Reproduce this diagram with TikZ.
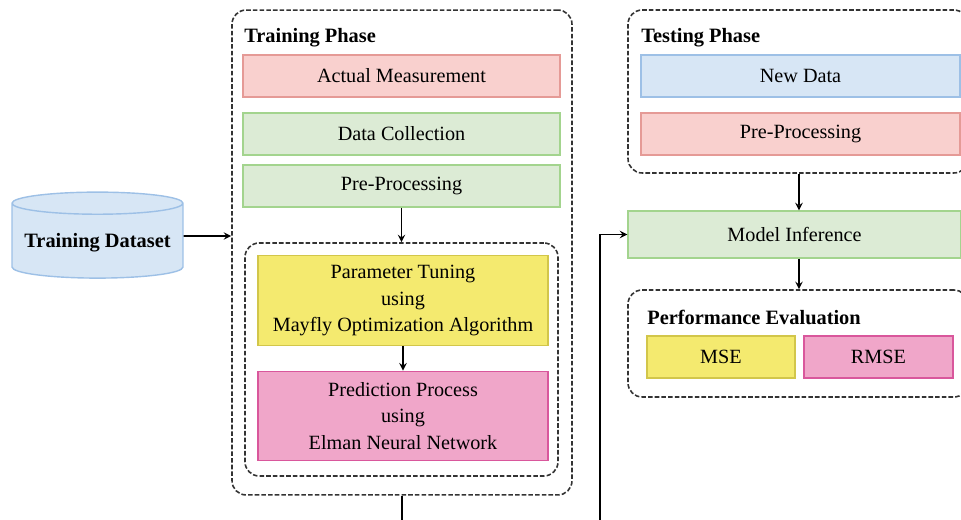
\documentclass[tikz,border=0pt]{standalone}
\usepackage{fontspec}
\setmainfont{Liberation Serif}
\usetikzlibrary{shapes.geometric}

\definecolor{redfill}{HTML}{F9D0CE}
\definecolor{redline}{HTML}{E59A96}
\definecolor{greenfill}{HTML}{DCEBD5}
\definecolor{greenline}{HTML}{A3D48E}
\definecolor{bluefill}{HTML}{D7E6F5}
\definecolor{blueline}{HTML}{9DC0E6}
\definecolor{yellowfill}{HTML}{F4EA6F}
\definecolor{yellowline}{HTML}{D2C64A}
\definecolor{pinkfill}{HTML}{F0A6C9}
\definecolor{pinkline}{HTML}{D9579C}

\begin{document}
\begin{tikzpicture}[x=0.02cm, y=-0.02cm, >=stealth,
    font=\fontsize{11.5}{15}\selectfont,
    stage/.style={draw, line width=0.8pt, minimum width=6.34cm, minimum height=0.84cm, inner sep=0pt},
    tall/.style={stage, minimum width=5.8cm, minimum height=1.79cm, align=center},
    group/.style={draw=black!80, line width=0.9pt, dash pattern=on 2.6pt off 1.2pt, rounded corners=8pt, inner sep=0pt},
    heading/.style={anchor=base west, font=\fontsize{11.6}{13}\selectfont\bfseries, inner sep=0pt},
    link/.style={->, line width=0.9pt}]
    \path[use as bounding box, clip] (0,0) rectangle (961,520);

    % Dataset
    \node[cylinder, shape border rotate=90, aspect=0.14, draw=blueline, fill=bluefill, line width=0.8pt,
          minimum width=3.42cm, minimum height=1.72cm, font=\fontsize{11.6}{13}\selectfont\bfseries] (data) at (97.5,243) {Training Dataset};

    % Training phase
    \node[group, minimum width=6.8cm, minimum height=9.7cm] (train) at (402,252.5) {};
    \node[heading] (trainhead) at (244,43) {Training Phase};
    \node[stage, draw=redline, fill=redfill] (actual) at (401.5,76) {Actual Measurement};
    \node[stage, draw=greenline, fill=greenfill] (collect) at (401.5,134) {Data Collection};
    \node[stage, draw=greenline, fill=greenfill] (prep) at (401.5,186) {Pre-Processing};
    \node[group, minimum width=6.26cm, minimum height=4.66cm] (inner) at (401.5,359.5) {};
    \node[tall, draw=yellowline, fill=yellowfill] (tune) at (403,300.5) {Parameter Tuning\\using\\Mayfly Optimization Algorithm};
    \node[tall, draw=pinkline, fill=pinkfill] (predict) at (403,416) {Prediction Process\\using\\Elman Neural Network};

    % Testing phase
    \node[group, minimum width=6.8cm, minimum height=3.26cm] (test) at (798,91.5) {};
    \node[heading] (testhead) at (641,43) {Testing Phase};
    \node[stage, minimum width=6.38cm, draw=blueline, fill=bluefill] (newdata) at (800.5,76) {New Data};
    \node[stage, minimum width=6.38cm, draw=redline, fill=redfill] (testprep) at (800.5,134) {Pre-Processing};
    \node[stage, minimum width=6.66cm, minimum height=0.94cm, draw=greenline, fill=greenfill] (infer) at (794.5,234.5) {Model Inference};

    % Evaluation
    \node[group, minimum width=6.8cm, minimum height=2.14cm] (perf) at (798,343.5) {};
    \node[heading] (perfhead) at (647,325) {Performance Evaluation};
    \node[stage, minimum width=2.96cm, draw=yellowline, fill=yellowfill] (mse) at (721,357) {MSE};
    \node[stage, minimum width=2.98cm, draw=pinkline, fill=pinkfill] (rmse) at (878.5,357) {RMSE};

    % Connectors
    \draw[link] ([yshift=0.14cm]data.east) -- (train.west |- 0,236);
    \draw[link] (prep.south -| inner.north) -- (inner.north);
    \draw[link] (tune) -- (predict);
    \draw[link] (test.south -| 799,0) -- (infer.north -| 799,0);
    \draw[link] (infer.south -| 799,0) -- (perf.north -| 799,0);
    \coordinate (turn) at (600,545);
    \draw[link] (train.south) |- (turn) |- (infer.west);
\end{tikzpicture}
\end{document}
